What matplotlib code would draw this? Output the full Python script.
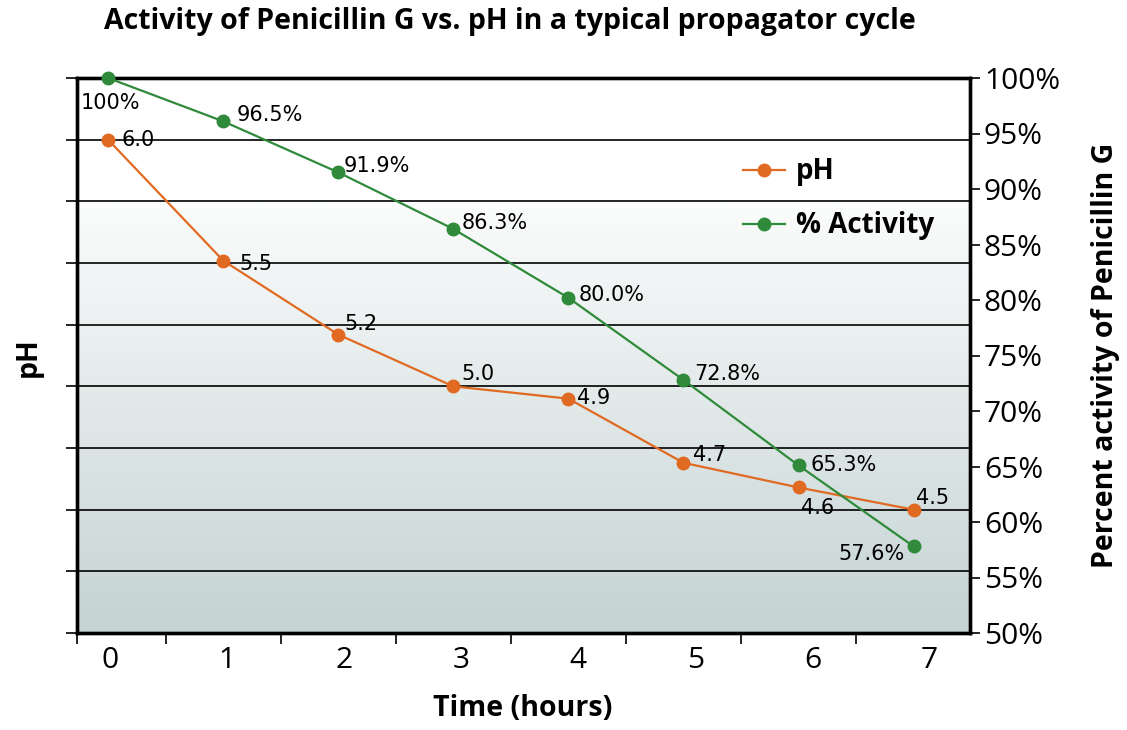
import matplotlib
matplotlib.use("Agg")
import matplotlib.pyplot as plt
import numpy as np
from matplotlib.lines import Line2D
from matplotlib.colors import LinearSegmentedColormap

# ---- data ----
time_hours = [0, 1, 2, 3, 4, 5, 6, 7]
ph_values = [6.0, 5.51, 5.21, 5.0, 4.95, 4.69, 4.59, 4.5]
ph_labels = ["6.0", "5.5", "5.2", "5.0", "4.9", "4.7", "4.6", "4.5"]
activity_values = [100, 96.1, 91.5, 86.4, 80.2, 72.8, 65.1, 57.8]
activity_labels = ["100%", "96.5%", "91.9%", "86.3%", "80.0%", "72.8%", "65.3%", "57.6%"]
x_tick_labels = ["0", "1", "2", "3", "4", "5", "6", "7"]
right_ticks = [50, 55, 60, 65, 70, 75, 80, 85, 90, 95, 100]

ORANGE = "#e06a22"
GREEN = "#2f8a3a"
HF = "Open Sans"

fig = plt.figure(figsize=(11.27, 7.30), dpi=100)
ax = fig.add_axes([77/1127, 1-633/730, (970-77)/1127, (633-78)/730])
ax2 = ax.twinx()

xlim = (-0.27, 7.49)
ax.set_xlim(*xlim)
ax.set_ylim(4.0, 6.25)
ax2.set_ylim(50, 100)

# background gradient: white on top band, then gradient down
ymax_grad = 5.75
cmap = LinearSegmentedColormap.from_list("bg", ["#c5d3d3", "#fbfcfc"])
grad = np.linspace(0, 1, 256).reshape(-1, 1)
ax.imshow(grad, cmap=cmap, aspect="auto", origin="lower",
          extent=(xlim[0], xlim[1], 4.0, ymax_grad), zorder=0)
ax.set_facecolor("white")

# gridlines
ax.set_yticks(np.arange(4.0, 6.26, 0.25))
ax.set_yticklabels([])
ax.grid(axis="y", color="black", lw=1.2, zorder=1)
ax.tick_params(axis="y", direction="out", length=8, width=1.2, color="black")

# x ticks: boundaries as major, labels as minor
ax.set_xticks([t + 0.5 for t in time_hours[:-1]] + [xlim[0]])
ax.set_xticklabels([])
ax.set_xticks([t + 0.013 + 0.018 * t for t in time_hours], minor=True)
ax.set_xticklabels(x_tick_labels, minor=True, fontfamily=HF, fontsize=21.5)
ax.tick_params(axis="x", which="major", direction="out", length=8, width=1.2)
ax.tick_params(axis="x", which="minor", length=0, pad=9)

ax2.set_yticks(right_ticks)
ax2.set_yticklabels([f"{v}%" for v in right_ticks], fontfamily=HF, fontsize=21.5)
ax2.tick_params(axis="y", direction="out", length=7, width=1.2, pad=3)

for a in (ax, ax2):
    for s in a.spines.values():
        s.set_linewidth(2.4)
        s.set_color("black")

# lines
ax.plot(time_hours, ph_values, color=ORANGE, lw=1.6, marker="o", ms=9, zorder=3, clip_on=False)
ax2.plot(time_hours, activity_values, color=GREEN, lw=1.6, marker="o", ms=9, zorder=3, clip_on=False)

LS = 15
ph_offsets = [(13, 0, "left", "center"), (16, -3, "left", "center"), (6, 11, "left", "center"),
              (8, 12, "left", "center"), (9, 1, "left", "center"), (10, 8, "left", "center"),
              (19, -21, "center", "center"), (2, 12, "left", "center")]
for x, y, lab, (dx, dy, ha, va) in zip(time_hours, ph_values, ph_labels, ph_offsets):
    ax.annotate(lab, (x, y), xytext=(dx, dy), textcoords="offset pixels",
                ha=ha, va=va, fontsize=LS, color="black", zorder=4)

act_offsets = [(2, -25, "center", "center"), (13, 6, "left", "center"), (5, 6, "left", "center"),
               (8, 6, "left", "center"), (10, 3, "left", "center"), (11, 6, "left", "center"),
               (12, 0, "left", "center"), (-9, -8, "right", "center")]
for x, y, lab, (dx, dy, ha, va) in zip(time_hours, activity_values, activity_labels, act_offsets):
    ax2.annotate(lab, (x, y), xytext=(dx, dy), textcoords="offset pixels",
                 ha=ha, va=va, fontsize=LS, color="black", zorder=4)

# legend
handles = [Line2D([], [], color=ORANGE, lw=1.6, marker="o", ms=9),
           Line2D([], [], color=GREEN, lw=1.6, marker="o", ms=9)]
leg = ax2.legend(handles, ["pH", "% Activity"], loc="upper left",
                 bbox_to_anchor=(0.718, 0.902), frameon=False, handlelength=1.5,
                 handletextpad=0.4, labelspacing=0.9,
                 prop={"family": HF, "weight": "bold", "size": 20})

# labels & title
fig.text(510/1127, 1-22/730, "Activity of Penicillin G vs. pH in a typical propagator cycle",
         ha="center", va="center", fontfamily=HF, fontweight="bold", fontsize=20.5)
fig.text(523/1127, 1-708/730, "Time (hours)", ha="center", va="center",
         fontfamily=HF, fontweight="bold", fontsize=20.5)
fig.text(28/1127, 1-357/730, "pH", ha="center", va="center", rotation=90,
         fontfamily=HF, fontweight="bold", fontsize=20.5)
fig.text(1106/1127, 1-355/730, "Percent activity of Penicillin G", ha="center", va="center",
         rotation=90, fontfamily=HF, fontweight="bold", fontsize=20.5)

fig.savefig("out.png", dpi=100)
